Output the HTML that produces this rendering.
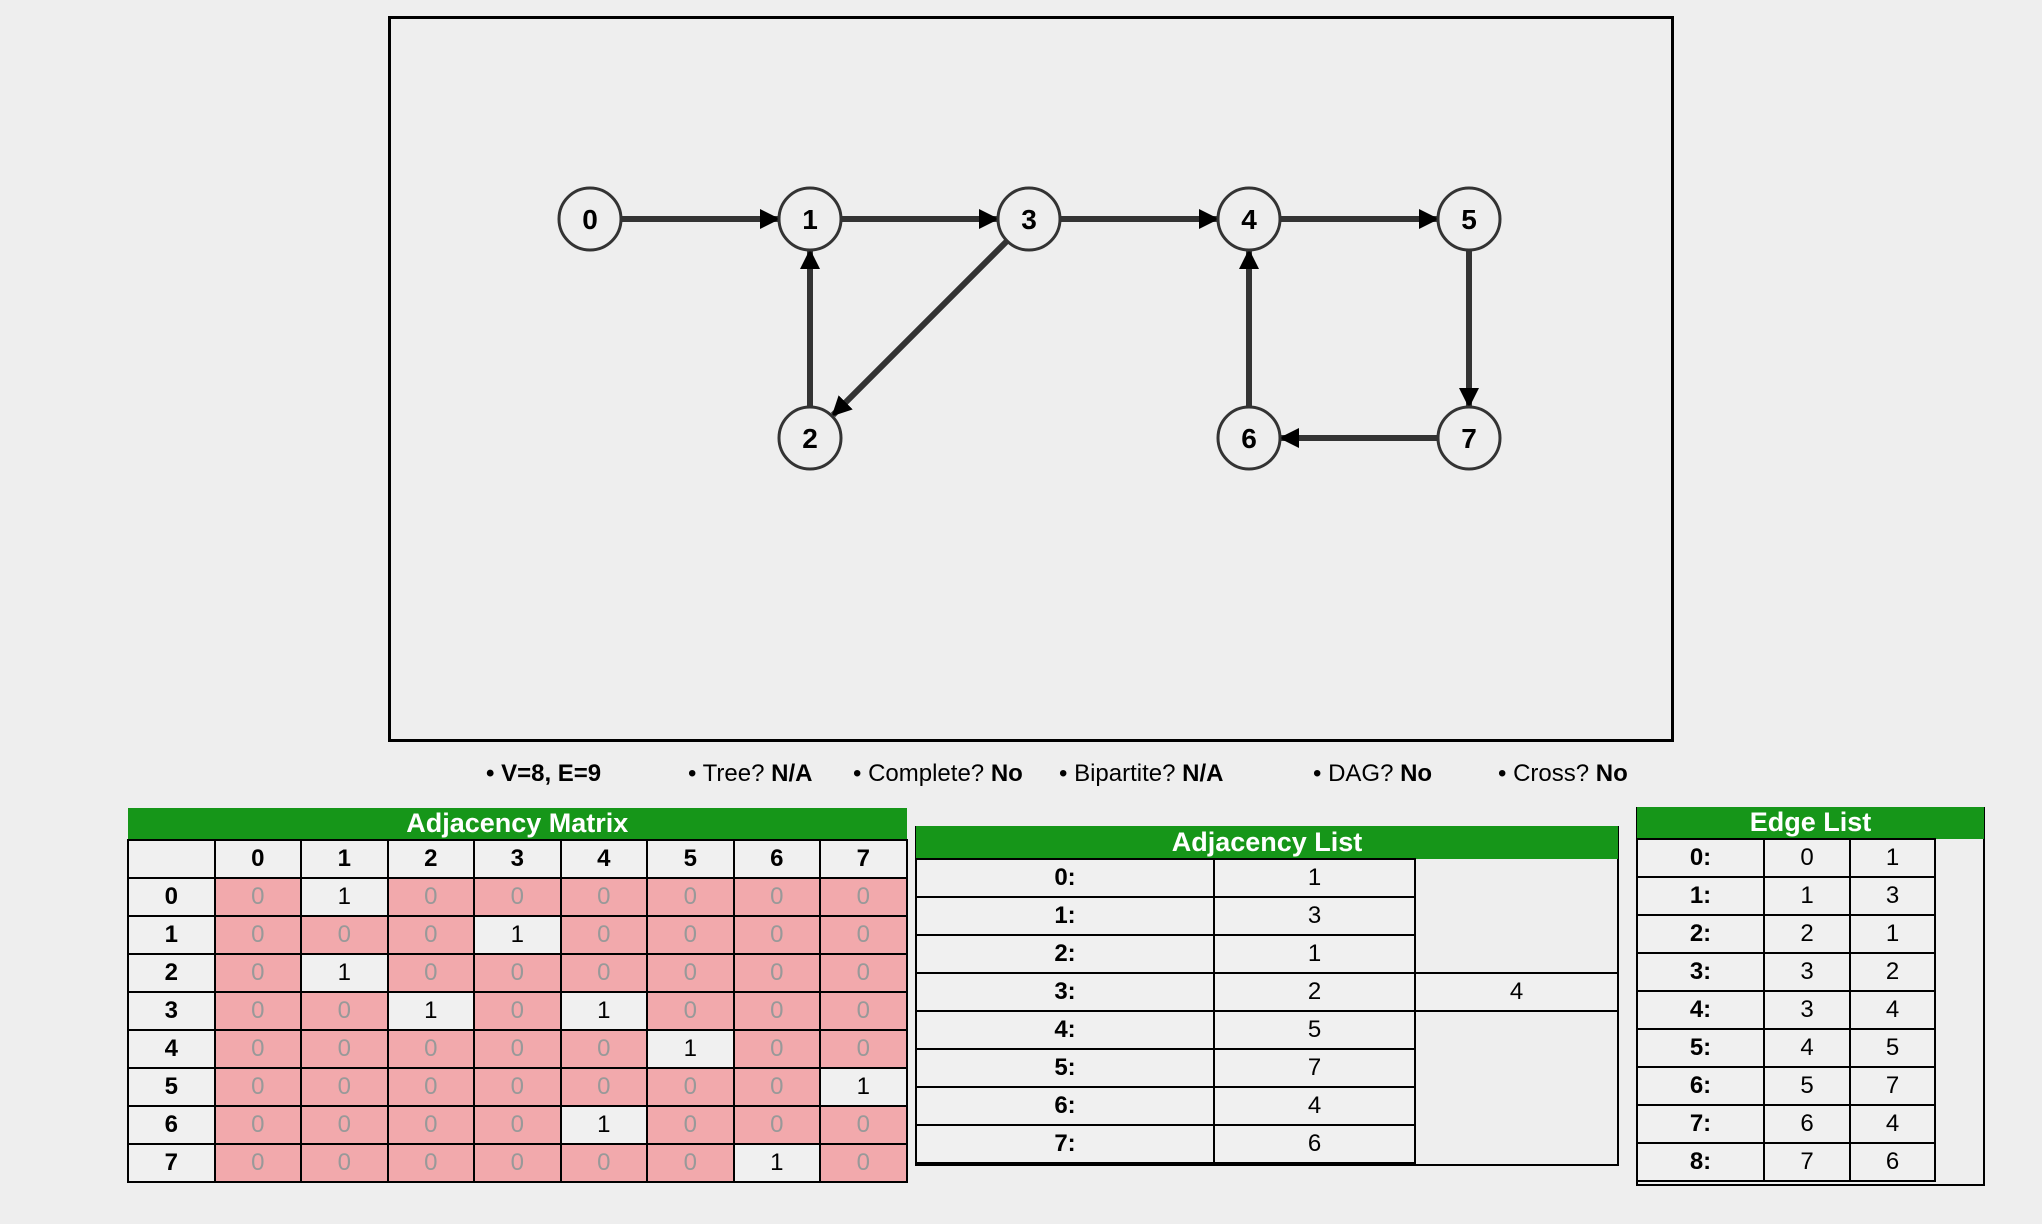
<!DOCTYPE html>
<html><head><meta charset="utf-8"><style>
body{margin:0;width:2042px;height:1224px;background:#eeeeee;position:relative;overflow:hidden;font-family:"Liberation Sans Narrow","Liberation Sans",sans-serif;}
.box{position:absolute;left:388px;top:16px;width:1280px;height:720px;border:3px solid #000;}
.stat{position:absolute;top:760px;font-size:24px;color:#000;white-space:nowrap;}
table{position:absolute;border-collapse:collapse;table-layout:fixed;font-size:24px;}
td{border:2.5px solid #000;text-align:center;height:36px;padding:0;background:#f0f0f0;}
.hd{background:#169619;color:#fff;font-weight:bold;font-size:27px;font-family:"Liberation Sans",sans-serif;border:none;height:31px;}
.z{background:#f2a9ac;color:#999;}
.b{font-weight:bold;}
.e{border:none;background:transparent;}
</style></head><body>
<div class="box"></div>
<svg style="position:absolute;left:0;top:0" width="2042" height="1224">
<defs><marker id="ah" markerWidth="20" markerHeight="20" refX="18" refY="10" orient="auto" markerUnits="userSpaceOnUse" viewBox="0 0 20 20"><path d="M0,0 L20,10 L0,20 z" fill="#000"/></marker></defs>
<g stroke="#333" stroke-width="6" fill="none">
<line x1="621" y1="219" x2="778" y2="219" marker-end="url(#ah)"/>
<line x1="841" y1="219" x2="997" y2="219" marker-end="url(#ah)"/>
<line x1="1060" y1="219" x2="1217" y2="219" marker-end="url(#ah)"/>
<line x1="1280" y1="219" x2="1437" y2="219" marker-end="url(#ah)"/>
<line x1="810" y1="407" x2="810" y2="251" marker-end="url(#ah)"/>
<line x1="1249" y1="407" x2="1249" y2="251" marker-end="url(#ah)"/>
<line x1="1469" y1="250" x2="1469" y2="406" marker-end="url(#ah)"/>
<line x1="1438" y1="438" x2="1281" y2="438" marker-end="url(#ah)"/>
<line x1="1007" y1="241" x2="833" y2="415" marker-end="url(#ah)"/>
</g>
<g fill="#eeeeee" stroke="#333" stroke-width="3">
<circle cx="590" cy="219" r="31"/><circle cx="810" cy="219" r="31"/><circle cx="1029" cy="219" r="31"/><circle cx="1249" cy="219" r="31"/><circle cx="1469" cy="219" r="31"/>
<circle cx="810" cy="438" r="31"/><circle cx="1249" cy="438" r="31"/><circle cx="1469" cy="438" r="31"/>
</g>
<g font-family="Liberation Sans,sans-serif" font-weight="bold" font-size="28" text-anchor="middle">
<text x="590" y="229">0</text><text x="810" y="229">1</text><text x="1029" y="229">3</text><text x="1249" y="229">4</text><text x="1469" y="229">5</text>
<text x="810" y="448">2</text><text x="1249" y="448">6</text><text x="1469" y="448">7</text>
</g>
</svg>
<div class="stat b" style="left:486px">• V=8, E=9</div>
<div class="stat" style="left:688px">• Tree? <b>N/A</b></div>
<div class="stat" style="left:853px">• Complete? <b>No</b></div>
<div class="stat" style="left:1059px">• Bipartite? <b>N/A</b></div>
<div class="stat" style="left:1313px">• DAG? <b>No</b></div>
<div class="stat" style="left:1498px">• Cross? <b>No</b></div>

<table style="left:127px;top:808px;width:779px">
<colgroup><col span="9" style="width:86.5px"></colgroup>
<tr><td class="hd" colspan="9">Adjacency Matrix</td></tr>
<tr class="b"><td></td><td>0</td><td>1</td><td>2</td><td>3</td><td>4</td><td>5</td><td>6</td><td>7</td></tr>
<tr><td class="b">0</td><td class="z">0</td><td>1</td><td class="z">0</td><td class="z">0</td><td class="z">0</td><td class="z">0</td><td class="z">0</td><td class="z">0</td></tr>
<tr><td class="b">1</td><td class="z">0</td><td class="z">0</td><td class="z">0</td><td>1</td><td class="z">0</td><td class="z">0</td><td class="z">0</td><td class="z">0</td></tr>
<tr><td class="b">2</td><td class="z">0</td><td>1</td><td class="z">0</td><td class="z">0</td><td class="z">0</td><td class="z">0</td><td class="z">0</td><td class="z">0</td></tr>
<tr><td class="b">3</td><td class="z">0</td><td class="z">0</td><td>1</td><td class="z">0</td><td>1</td><td class="z">0</td><td class="z">0</td><td class="z">0</td></tr>
<tr><td class="b">4</td><td class="z">0</td><td class="z">0</td><td class="z">0</td><td class="z">0</td><td class="z">0</td><td>1</td><td class="z">0</td><td class="z">0</td></tr>
<tr><td class="b">5</td><td class="z">0</td><td class="z">0</td><td class="z">0</td><td class="z">0</td><td class="z">0</td><td class="z">0</td><td class="z">0</td><td>1</td></tr>
<tr><td class="b">6</td><td class="z">0</td><td class="z">0</td><td class="z">0</td><td class="z">0</td><td>1</td><td class="z">0</td><td class="z">0</td><td class="z">0</td></tr>
<tr><td class="b">7</td><td class="z">0</td><td class="z">0</td><td class="z">0</td><td class="z">0</td><td class="z">0</td><td class="z">0</td><td>1</td><td class="z">0</td></tr>
</table>

<div style="position:absolute;left:915px;top:826px;width:700px;height:338px;border:2px solid #000;border-top:none"></div>
<table style="left:915px;top:826px;width:702px">
<colgroup><col style="width:298px"><col style="width:201px"><col style="width:203px"></colgroup>
<tr><td class="hd" colspan="3" style="height:32px">Adjacency List</td></tr>
<tr><td class="b">0:</td><td>1</td><td class="e"></td></tr>
<tr><td class="b">1:</td><td>3</td><td class="e"></td></tr>
<tr><td class="b">2:</td><td>1</td><td class="e"></td></tr>
<tr><td class="b">3:</td><td>2</td><td>4</td></tr>
<tr><td class="b">4:</td><td>5</td><td class="e"></td></tr>
<tr><td class="b">5:</td><td>7</td><td class="e"></td></tr>
<tr><td class="b">6:</td><td>4</td><td class="e"></td></tr>
<tr><td class="b">7:</td><td>6</td><td class="e"></td></tr>
</table>

<div style="position:absolute;left:1636px;top:807px;width:345px;height:377px;border:2px solid #000;border-top:none"></div>
<table style="left:1636px;top:807px;width:347px">
<colgroup><col style="width:127px"><col style="width:86px"><col style="width:85px"><col style="width:49px"></colgroup>
<tr><td class="hd" colspan="4">Edge List</td></tr>
<tr><td class="b">0:</td><td>0</td><td>1</td><td class="e"></td></tr>
<tr><td class="b">1:</td><td>1</td><td>3</td><td class="e"></td></tr>
<tr><td class="b">2:</td><td>2</td><td>1</td><td class="e"></td></tr>
<tr><td class="b">3:</td><td>3</td><td>2</td><td class="e"></td></tr>
<tr><td class="b">4:</td><td>3</td><td>4</td><td class="e"></td></tr>
<tr><td class="b">5:</td><td>4</td><td>5</td><td class="e"></td></tr>
<tr><td class="b">6:</td><td>5</td><td>7</td><td class="e"></td></tr>
<tr><td class="b">7:</td><td>6</td><td>4</td><td class="e"></td></tr>
<tr><td class="b">8:</td><td>7</td><td>6</td><td class="e"></td></tr>
</table>
</body></html>
